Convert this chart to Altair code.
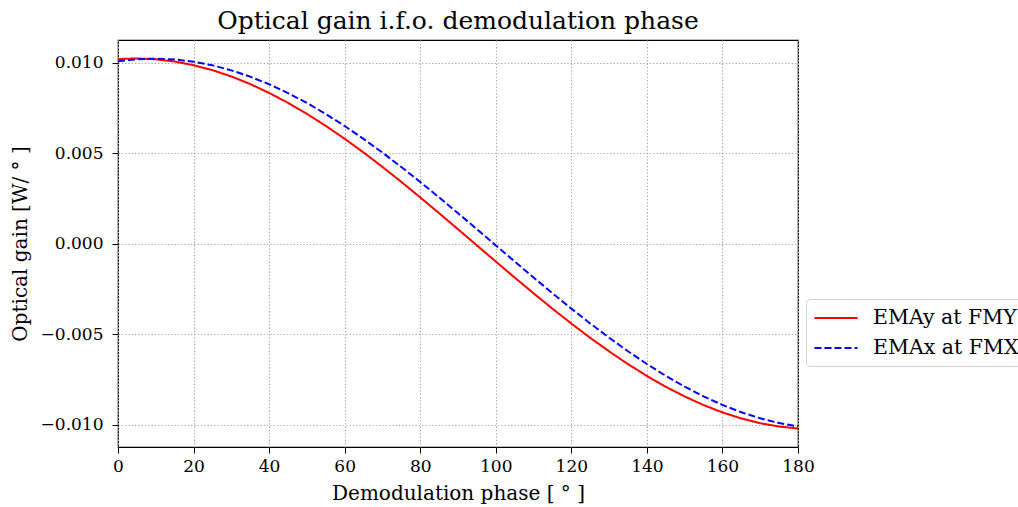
import altair as alt
import pandas as pd

# Demodulation phase in degrees (5 degree steps)
phase = [0, 5, 10, 15, 20, 25, 30, 35, 40, 45, 50, 55, 60, 65, 70, 75, 80, 85, 90,
         95, 100, 105, 110, 115, 120, 125, 130, 135, 140, 145, 150, 155, 160, 165,
         170, 175, 180]

# Optical gain of EMAy read at FMY [W/deg]
gain_emay = [0.010218, 0.010250, 0.010203, 0.010078, 0.009877, 0.009601, 0.009252,
             0.008832, 0.008345, 0.007794, 0.007184, 0.006520, 0.005806, 0.005047,
             0.004251, 0.003422, 0.002566, 0.001692, 0.000804, -0.000089, -0.000982,
             -0.001868, -0.002739, -0.003590, -0.004413, -0.005202, -0.005952,
             -0.006657, -0.007311, -0.007909, -0.008447, -0.008921, -0.009327,
             -0.009662, -0.009924, -0.010109, -0.010218]

# Optical gain of EMAx read at FMX [W/deg]
gain_emax = [0.010100, 0.010208, 0.010240, 0.010193, 0.010068, 0.009868, 0.009592,
             0.009243, 0.008823, 0.008337, 0.007787, 0.007177, 0.006513, 0.005800,
             0.005042, 0.004246, 0.003418, 0.002564, 0.001690, 0.000803, -0.000089,
             -0.000982, -0.001866, -0.002737, -0.003586, -0.004408, -0.005197,
             -0.005946, -0.006650, -0.007304, -0.007901, -0.008439, -0.008912,
             -0.009318, -0.009653, -0.009914, -0.010100]

series_names = ["EMAy at FMY", "EMAx at FMX"]
series_colors = ["#ff0000", "#0000ff"]
series_dashes = [[1, 0], [7, 3]]

x_ticks = [0, 20, 40, 60, 80, 100, 120, 140, 160, 180]
y_ticks = [-0.010, -0.005, 0.000, 0.005, 0.010]

df = pd.concat([
    pd.DataFrame({"phase": phase, "gain": gain_emay, "series": series_names[0]}),
    pd.DataFrame({"phase": phase, "gain": gain_emax, "series": series_names[1]}),
])

FONT = "DejaVu Serif"

legend = alt.Legend(title=None, orient="none", legendX=688, legendY=259)

chart = alt.Chart(df).mark_line(strokeWidth=2, clip=True).encode(
    x=alt.X("phase:Q",
            scale=alt.Scale(domain=[0, 180], nice=False, zero=False),
            axis=alt.Axis(values=x_ticks, title="Demodulation phase [ ° ]", format="d",
                          labelPadding=5, titlePadding=9)),
    y=alt.Y("gain:Q",
            scale=alt.Scale(domain=[-0.01124, 0.01127], nice=False, zero=False),
            axis=alt.Axis(values=y_ticks, title="Optical gain [W/ ° ]", format=".3f",
                          labelPadding=9, titlePadding=10)),
    color=alt.Color("series:N",
                    scale=alt.Scale(domain=series_names, range=series_colors),
                    legend=legend),
    strokeDash=alt.StrokeDash("series:N",
                              scale=alt.Scale(domain=series_names, range=series_dashes),
                              legend=legend),
    order=alt.Order("phase:Q"),
).properties(
    width=680,
    height=407,
    title=alt.TitleParams("Optical gain i.f.o. demodulation phase", font=FONT,
                          fontSize=25, fontWeight="normal", color="black",
                          anchor="middle", offset=6),
    autosize=alt.AutoSizeParams(type="none"),
    padding={"left": 118, "top": 40, "right": 220, "bottom": 60},
).configure_view(
    stroke="black", strokeWidth=1.2
).configure_axis(
    labelFont=FONT, labelFontSize=17, labelColor="black", labelFlush=False,
    titleFont=FONT, titleFontSize=20, titleFontWeight="normal", titleColor="black",
    tickColor="black", tickSize=6, tickWidth=1,
    domain=False,
    grid=True, gridColor="#a8a8a8", gridDash=[1.3, 2], gridWidth=1.1,
).configure_legend(
    labelFont=FONT, labelFontSize=20.5, labelColor="black",
    symbolType="M-2,0L2,0", symbolSize=462, symbolStrokeWidth=2,
    symbolOffset=11, labelOffset=25,
    strokeColor="#d0d0d0", fillColor="white", cornerRadius=4, padding=7,
    rowPadding=7,
)

chart.save("out.html", embed_options={"renderer": "svg", "actions": False})
